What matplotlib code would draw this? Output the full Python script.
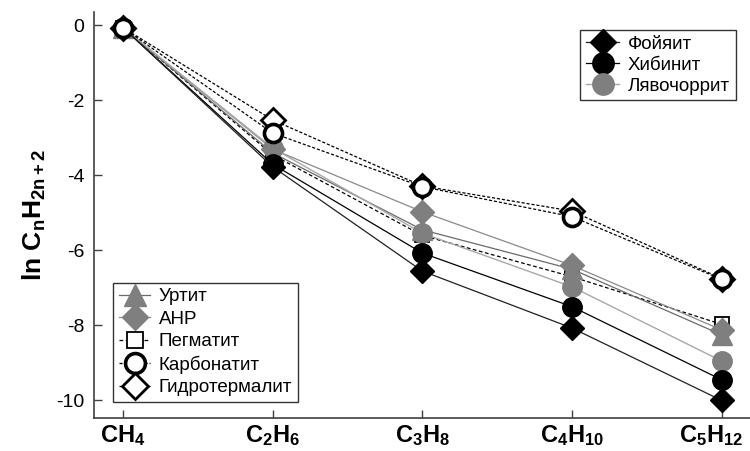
import matplotlib.pyplot as plt
from matplotlib.transforms import ScaledTranslation

plt.rcParams['font.family'] = ['Liberation Sans', 'DejaVu Sans']
plt.rcParams['mathtext.default'] = 'regular'

# alkanes C1..C5
compounds = [r'CH$_4$', r'C$_2$H$_6$', r'C$_3$H$_8$', r'C$_4$H$_{10}$', r'C$_5$H$_{12}$']
x = [0, 1, 2, 3, 4]

foyait = [-0.06, -3.77, -6.55, -8.07, -10.0]
khibinit = [-0.06, -3.70, -6.07, -7.50, -9.45]
lyavochorrit = [-0.06, -3.27, -5.54, -6.97, -8.95]
urtit = [-0.06, -3.40, -5.45, -6.50, -8.25]
anr = [-0.06, -3.30, -4.97, -6.40, -8.12]
pegmatit = [-0.06, -3.45, -5.60, -6.70, -7.97]
karbonatit = [-0.06, -2.87, -4.30, -5.10, -6.77]
gidroterm = [-0.06, -2.52, -4.28, -4.95, -6.75]

grey = '#7f7f7f'

fig = plt.figure(figsize=(7.5, 4.51), dpi=100)
ax = fig.add_axes([0.1253, 0.0732, 0.8747, 0.9002])

# series drawn back to front
pe, = ax.plot(x, pegmatit, color='black', lw=0.9, ls=(0, (3, 2)), marker='s', ms=10,
              mfc='white', mec='black', mew=1.3)
ur, = ax.plot(x, urtit, color='#6a6a6a', lw=0.9, marker='^', ms=14, mfc=grey, mec=grey)
an, = ax.plot(x, anr, color='#8a8a8a', lw=0.9, marker='D', ms=12, mfc=grey, mec=grey)
ly, = ax.plot(x, lyavochorrit, color='#a8a8a8', lw=1.0, marker='o', ms=14, mfc=grey, mec=grey)
kh, = ax.plot(x, khibinit, color='black', lw=0.9, marker='o', ms=14, mfc='black', mec='black')
fo, = ax.plot(x, foyait, color='#202020', lw=0.9, marker='D', ms=12, mfc='black', mec='black')
gi, = ax.plot(x, gidroterm, color='black', lw=0.9, ls=(0, (2.5, 1.5)), marker='D', ms=12,
              mfc='white', mec='black', mew=2)
ka, = ax.plot(x, karbonatit, color='black', lw=0.9, ls=(0, (2.5, 1.5)), marker='o', ms=13,
              mfc='white', mec='black', mew=2.6)

ax.set_xlim(-0.194, 4.19)
ax.set_ylim(-10.47, 0.36)
ax.set_xticks(x)
ax.set_xticklabels(compounds, fontsize=17, fontweight='bold')
ax.set_yticks([0, -2, -4, -6, -8, -10])
ax.set_yticklabels(['0', '-2', '-4', '-6', '-8', '-10'], fontsize=14)
ax.tick_params(direction='in', length=6, width=1, color='#404040', pad=7)
ax.tick_params(axis='x', pad=4)

# nudge the last label left so it stays inside the figure
last = ax.get_xticklabels()[-1]
last.set_transform(last.get_transform() + ScaledTranslation(-10 / 100, 0, fig.dpi_scale_trans))

for side in ['top', 'right']:
    ax.spines[side].set_visible(False)
for side in ['left', 'bottom']:
    ax.spines[side].set_color('#404040')
    ax.spines[side].set_linewidth(1.2)

ax.set_ylabel(r'ln C$_n$H$_{2n+2}$', fontsize=19, fontweight='bold', labelpad=6)

leg1 = ax.legend([fo, kh, ly], ['Фойяит', 'Хибинит', 'Лявочоррит'], loc='upper right',
                 bbox_to_anchor=(0.978, 0.955), fontsize=13.5, frameon=True, fancybox=False,
                 edgecolor='black', handlelength=1.8, handletextpad=0.45, labelspacing=0.2,
                 borderpad=0.3, borderaxespad=0, markerscale=1.1)
leg1.get_frame().set_linewidth(1.0)
ax.add_artist(leg1)

leg2 = ax.legend([ur, an, pe, ka, gi], ['Уртит', 'АНР', 'Пегматит', 'Карбонатит', 'Гидротермалит'],
                 loc='lower left', bbox_to_anchor=(0.029, 0.04), fontsize=13.5, frameon=True,
                 fancybox=False, edgecolor='black', handlelength=1.7, handletextpad=0.45,
                 labelspacing=0.28, borderpad=0.3, borderaxespad=0, markerscale=1.1)
leg2.get_frame().set_linewidth(1.0)

fig.savefig('out.png', dpi=100)
